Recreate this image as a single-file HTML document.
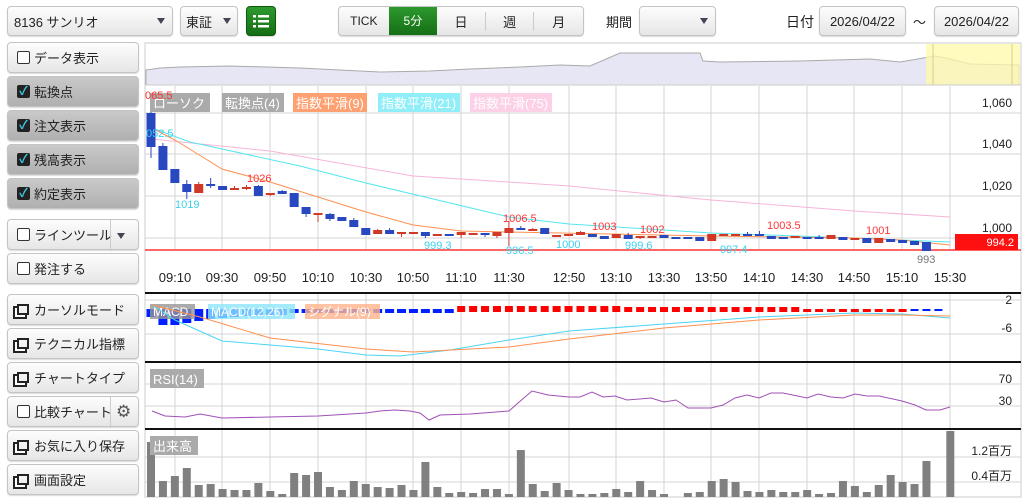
<!DOCTYPE html>
<html><head><meta charset="utf-8">
<style>
*{box-sizing:border-box;margin:0;padding:0}
body{width:1024px;height:500px;background:#fff;font-family:"Liberation Sans","Noto Sans CJK JP",sans-serif;position:relative;overflow:hidden;color:#222}
.b{position:absolute;border:1px solid #c4c4c4;border-radius:4px;background:linear-gradient(#fdfdfd,#e6e6e6);box-shadow:0 1px 1px rgba(0,0,0,.15);font-size:13px;display:flex;align-items:center}
.sb{left:7px;width:132px;height:31px;padding-left:9px}
.dk{background:linear-gradient(#c9c9c9,#b0b0b0)}
.cb{width:13px;height:13px;border:1px solid #333;border-radius:2px;background:#fff;margin-right:4px;flex:none}
.ck{width:13px;height:13px;background:#222;border-radius:2px;margin-right:4px;color:#3cc8e8;font-size:12px;line-height:13px;text-align:center;flex:none;font-weight:bold}
.ic{width:12px;height:11px;border:2px solid #222;margin-right:5px;position:relative;flex:none;box-shadow:-3px 3px 0 -1px #fff,-3px 3px 0 1px #222}
.t{position:absolute;font-size:13px}
.arr{position:absolute;width:0;height:0;border-left:4px solid transparent;border-right:4px solid transparent;border-top:6px solid #445}
</style></head><body>
<div class="b" style="left:7px;top:6px;width:166px;height:30px;padding-left:6px">8136 サンリオ</div><div class="arr" style="left:157px;top:18px"></div>
<div class="b" style="left:180px;top:6px;width:58px;height:30px;padding-left:5px">東証</div><div class="arr" style="left:223px;top:18px"></div>
<div class="b" style="left:246px;top:6px;width:30px;height:30px;background:linear-gradient(#2e9a2e,#146e14);border-color:#0d5a0d;justify-content:center">
<svg width="16" height="14"><g fill="#fff"><rect x="0" y="1" width="3" height="2.5"/><rect x="5" y="1" width="11" height="2.5"/><rect x="0" y="6" width="3" height="2.5"/><rect x="5" y="6" width="11" height="2.5"/><rect x="0" y="11" width="3" height="2.5"/><rect x="5" y="11" width="11" height="2.5"/></g></svg></div>
<div class="b" style="left:338px;top:6px;width:246px;height:30px;overflow:hidden">
<div style="width:50px;text-align:center;font-size:12px">TICK</div>
<div style="width:49px;height:30px;line-height:30px;text-align:center;color:#fff;background:linear-gradient(#2e9a2e,#146e14);font-size:12px">5分</div>
<div style="width:49px;text-align:center;border-right:1px solid #ccc">日</div>
<div style="width:49px;text-align:center;border-right:1px solid #ccc">週</div>
<div style="width:49px;text-align:center">月</div></div>
<div class="t" style="left:606px;top:12px">期間</div>
<div class="b" style="left:639px;top:6px;width:77px;height:30px"></div><div class="arr" style="left:700px;top:18px"></div>
<div class="t" style="left:786px;top:12px;font-size:14px">日付</div>
<div class="b" style="left:819px;top:6px;width:87px;height:30px;justify-content:center">2026/04/22</div>
<div class="t" style="left:913px;top:12px">～</div>
<div class="b" style="left:934px;top:6px;width:85px;height:30px;justify-content:center">2026/04/22</div>

<div class="b sb" style="top:42px"><span class="cb"></span>データ表示</div>
<div class="b sb dk" style="top:76px"><span class="ck">✓</span>転換点</div>
<div class="b sb dk" style="top:110px"><span class="ck">✓</span>注文表示</div>
<div class="b sb dk" style="top:144px"><span class="ck">✓</span>残高表示</div>
<div class="b sb dk" style="top:178px"><span class="ck">✓</span>約定表示</div>
<div class="b sb" style="top:219px"><span class="cb"></span>ラインツール<span style="position:absolute;left:102px;top:0;height:31px;border-left:1px solid #ccc"></span></div><div class="arr" style="left:117px;top:233px"></div>
<div class="b sb" style="top:253px"><span class="cb"></span>発注する</div>
<div class="b sb" style="top:294px"><span class="ic"></span>カーソルモード</div>
<div class="b sb" style="top:328px"><span class="ic"></span>テクニカル指標</div>
<div class="b sb" style="top:362px"><span class="ic"></span>チャートタイプ</div>
<div class="b sb" style="top:396px"><span class="cb"></span>比較チャート<span style="position:absolute;left:102px;top:0;height:31px;border-left:1px solid #ccc"></span><span style="position:absolute;left:108px;top:5px;font-size:17px;color:#555">⚙</span></div>
<div class="b sb" style="top:430px"><span class="ic"></span>お気に入り保存</div>
<div class="b sb" style="top:464px"><span class="ic"></span>画面設定</div>

<svg id="c" width="1024" height="500" style="position:absolute;left:0;top:0" font-family="Liberation Sans, Noto Sans CJK JP, sans-serif"></svg>
<script>
var s='';
function L(x1,y1,x2,y2,c,w,d){s+='<line x1="'+x1+'" y1="'+y1+'" x2="'+x2+'" y2="'+y2+'" stroke="'+c+'" stroke-width="'+(w||1)+'"'+(d?' stroke-dasharray="'+d+'"':'')+'/>';}
function R(x,y,w,h,c){s+='<rect x="'+x+'" y="'+y+'" width="'+w+'" height="'+h+'" fill="'+c+'"/>';}
function T(x,y,t,c,sz,a){s+='<text x="'+x+'" y="'+y+'" fill="'+c+'" font-size="'+(sz||12)+'"'+(a?' text-anchor="'+a+'"':'')+'>'+t+'</text>';}
function P(pts,c,w,f){s+='<polyline points="'+pts+'" fill="'+(f||'none')+'" stroke="'+c+'" stroke-width="'+(w||1)+'"/>';}
// frame
s+='<rect x="145" y="43" width="876" height="454" fill="#fff" stroke="#ccc"/>';
// mini chart
P('146,85 146,70 160,68 180,67 230,66 300,68 380,72 430,71 470,69 520,67 560,65 590,66 620,53 700,53 703,61 720,62 800,61 870,59 900,62 935,56 950,59 970,64 1019,65 1019,85','#aaa',1,'#e6e6f4');
R(926,44,94,41,'rgba(255,250,170,.75)');L(933,44,933,85,'#d8d080');L(1012,44,1012,85,'#d8d080');
L(145,85,1021,85,'#ccc');
// vertical grid
var vx=[175,222,270,318,366,413,461,509,569,616,664,711,759,807,854,902,950];
var vl=['09:10','09:30','09:50','10:10','10:30','10:50','11:10','11:30','12:50','13:10','13:30','13:50','14:10','14:30','14:50','15:10','15:30'];
vx.forEach(function(x,i){L(x,86,x,250,'#d4d4d4');L(x,293,x,497,'#d4d4d4');T(x,282,vl[i],'#222',13,'middle');});
// horizontal grid main
[[113,'1,060'],[154,'1,040'],[196,'1,020'],[238,'1,000']].forEach(function(g){L(145,g[0],1021,g[0],'#d4d4d4');T(1012,g[0]-6,g[1],'#222',12,'end');});
L(145,250,1021,250,'#f66',2);
// EMAs
P('152,139 270,151 413,176 509,182 569,186 711,200 854,211 950,217','#f8b4d8');
P('152,128 190,142 300,166 366,183 509,217 569,224 711,233 854,238 950,242','#55e6f0');
P('152,128 175,140 222,169 270,182 318,197 366,212 413,225 461,231 509,232 711,236 854,238 900,240 950,245','#ff9050');
// candles
var cd=[[113,147,0,102,158],[146,170,0,143,170],[169,183,0,169,183],[184,192,0,180,199],[184,193,1,182,193],[184,186,0,178,188],[186,190,0,186,190],[188,190,1,186,190],[187,189,1,185,190],[186,196,0,185,196],[193,195,1,193,196],[191,194,0,190,194],[193,207,0,193,207],[207,214,0,207,217],[213,215,1,213,222],[214,219,0,213,221],[217,221,0,217,221],[220,227,0,218,227],[228,235,0,228,235],[230,234,1,229,234],[230,234,0,228,234],[232,234,1,232,237],[232,234,1,232,234],[232,236,0,232,238],[234,236,1,234,236],[234,236,0,234,236],[232,235,1,232,238],[233,235,1,233,235],[233,235,0,233,237],[232,236,1,232,238],[228,233,1,221,246],[228,230,0,226,230],[229,231,1,228,231],[228,234,0,228,234],[235,237,1,235,237],[234,236,1,234,236],[232,235,1,231,235],[234,237,0,234,237],[236,239,0,236,239],[234,238,1,234,238],[235,239,0,233,239],[236,238,1,236,239],[236,238,1,236,238],[235,238,0,235,238],[237,239,0,237,239],[237,239,0,237,239],[237,241,0,237,241],[234,241,1,234,241],[234,236,1,234,236],[234,236,1,234,236],[234,236,0,232,236],[234,236,0,231,236],[236,239,0,236,239],[237,239,0,237,239],[236,238,1,236,238],[237,239,0,237,239],[237,239,0,235,239],[235,239,1,235,239],[237,240,0,237,240],[238,240,1,238,240],[238,243,0,238,243],[238,243,1,238,243],[239,242,0,239,242],[240,243,0,240,243],[241,245,0,241,245],[242,251,0,242,251]];
cd.forEach(function(c,i){var x=151+i*11.93;var col=c[2]?'#d03828':'#2848c0';L(x,c[3],x,c[4],col);R(x-4.5,c[0],9,Math.max(c[1]-c[0],2),col);});
// legends
[[150,'ローソク','#aaa',60],[222,'転換点(4)','#aaa',62],[293,'指数平滑(9)','#ffa070',74],[378,'指数平滑(21)','#8feef8',82],[470,'指数平滑(75)','#fcd0e6',82]].forEach(function(l){R(l[0],93,l[3],19,l[2]);T(l[0]+3,108,l[1],'#fff',13);});
// price labels
var pl=[[145,99,'065.5','#f33'],[146,137,'052.5','#3bd0f0'],[175,208,'1019','#3bd0f0'],[247,182,'1026','#f33'],[424,249,'999.3','#3bd0f0'],[503,222,'1006.5','#f33'],[506,254,'996.5','#3bd0f0'],[556,248,'1000','#3bd0f0'],[592,230,'1003','#f33'],[625,249,'999.6','#3bd0f0'],[640,233,'1002','#f33'],[720,253,'997.4','#3bd0f0'],[767,229,'1003.5','#f33'],[866,234,'1001','#f33'],[917,263,'993','#777']];
pl.forEach(function(p){T(p[0],p[1],p[2],p[3],11);});
R(955,234,63,16,'#ff1010');T(1014,246,'994.2','#fff',11,'end');
// separators
L(145,293,1021,293,'#111',2);L(145,362,1021,362,'#111',2);L(145,429,1021,429,'#111',2);
// MACD
L(145,300,1021,300,'#d4d4d4');L(145,334,1021,334,'#d4d4d4');T(1012,304,'2','#222',12,'end');T(1012,332,'-6','#222',12,'end');
var mh=[6,14,14,12,10,8,7,6,5,5,4,4,4,3,3,3,3,3,3,3,2,2,2,2,2,2,2,2];
for(var i=0;i<67;i++){var x=151+i*11.93;var h,col;
 if(i<26){h=i<12?mh[i]:2;col='#0020ff';R(x-4.5,309,9,h+2,col);}
 else if(i<64){col='#ff0000';var hh=i<40?6:(i<55?5:3);R(x-4,312-hh,8,hh,col);}
 else {R(x-4,309,8,2,'#0020ff');}}
R(150,304,45,15,'rgba(150,150,150,.8)');T(153,316,'MACD','#fff',12);
R(208,304,87,15,'rgba(140,230,250,.8)');T(211,316,'MACD(12,26)','#fff',12);
R(305,304,75,15,'rgba(255,180,140,.8)');T(308,316,'シグナル(9)','#fff',12);
P('152,305 175,320 222,341 270,345 318,349 366,355 400,356 450,350 509,340 569,331 664,324 759,317 854,313 902,314 950,318','#4cd4f4');
P('152,305 200,317 270,338 366,349 413,352 509,347 569,339 664,328 759,320 854,315 902,315 950,316','#ff9050');
// RSI
L(145,384,1021,384,'#d4d4d4');L(145,406,1021,406,'#d4d4d4');T(1012,383,'70','#222',12,'end');T(1012,405,'30','#222',12,'end');
R(150,369,54,19,'#aaa');T(153,384,'RSI(14)','#fff',13);
P('152,411 165,416 185,417 200,414 222,418 270,417 318,416 366,413 380,411 395,410 410,411 420,413 429,420 440,415 470,414 509,411 518,403 532,391 548,395 569,397 580,397 592,392 603,397 615,396 627,400 651,398 664,402 676,400 688,408 711,408 723,405 735,398 747,395 759,398 771,393 783,393 807,398 818,394 831,397 843,398 855,394 867,396 879,396 902,401 915,405 926,410 940,410 950,407','#a050b8');
// Volume
L(145,457,1021,457,'#d4d4d4');L(145,482,1021,482,'#d4d4d4');T(1012,455,'1.2百万','#222',12,'end');T(1012,480,'0.4百万','#222',12,'end');
var vt=[442,481,476,468,485,484,489,490,490,483,491,494,473,475,472,487,490,481,484,487,488,485,490,462,487,493,492,493,489,489,494,450,484,491,483,490,494,494,493,489,492,481,490,494,496,493,492,481,479,482,491,492,490,492,492,490,494,493,481,486,492,485,475,482,484,461,497,431];
vt.forEach(function(t,i){var x=151+i*11.93;if(t<496)R(x-4,t,8,497-t,'#808080');});
R(150,436,48,19,'#aaa');T(153,451,'出来高','#fff',13);
document.getElementById('c').innerHTML=s;
</script>
</body></html>
